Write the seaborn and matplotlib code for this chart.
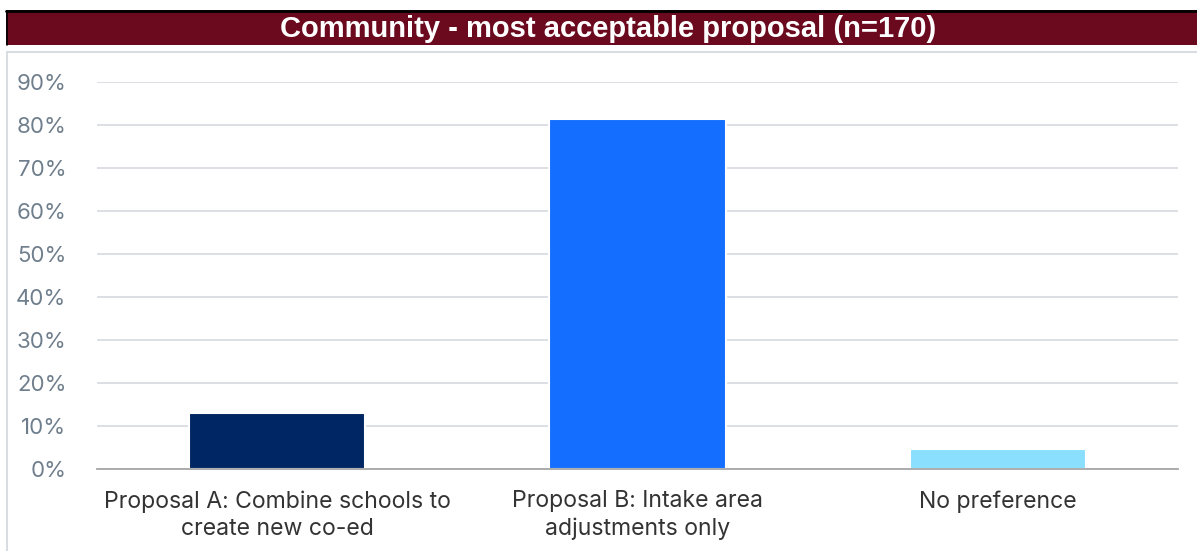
import matplotlib
matplotlib.use("Agg")
import matplotlib.pyplot as plt
from matplotlib.patches import Rectangle
from matplotlib.ticker import FixedLocator, FuncFormatter
import seaborn as sns
import pandas as pd

# Survey results
categories = [
    "Proposal A: Combine schools to\ncreate new co-ed",
    "Proposal B: Intake area\nadjustments only",
    "No preference",
]
shares = [13.0, 81.3, 4.7]
bar_colors = ["#002663", "#146EFF", "#8ADFFF"]
title = "Community - most acceptable proposal (n=170)"
y_ticks = [0, 10, 20, 30, 40, 50, 60, 70, 80, 90]

df = pd.DataFrame({"category": categories, "share": shares})

sns.set_theme(style="white")
plt.rcParams["font.family"] = ["Inter", "DejaVu Sans"]

W, H = 1197, 551
fig = plt.figure(figsize=(W / 100, H / 100), dpi=100)
fig.patch.set_facecolor("white")

# outer frame of the chart panel
frame = Rectangle((7 / W, -0.1), 1.0, (H - 52) / H + 0.1, transform=fig.transFigure,
                  facecolor="none", edgecolor="#D9DDE2", linewidth=1.5, zorder=0)
fig.patches.append(frame)

# title banner
banner = Rectangle((6 / W, (H - 45) / H), 1.0, 35 / H, transform=fig.transFigure,
                   facecolor="#6B0A1E", edgecolor="none", zorder=1)
fig.patches.append(banner)
fig.add_artist(plt.Line2D([6 / W, 1.0], [(H - 11) / H] * 2, transform=fig.transFigure,
                          color="black", linewidth=2, zorder=2))
fig.add_artist(plt.Line2D([6.5 / W] * 2, [(H - 45) / H, (H - 11) / H], transform=fig.transFigure,
                          color="black", linewidth=1.2, zorder=2))
fig.text(608 / W, (H - 29) / H, title, ha="center", va="center", color="white",
         fontsize=21, fontweight="bold", family=["Liberation Sans", "DejaVu Sans"], zorder=3)

ax_left, ax_right = 97, 1178
ax_top, ax_bottom = 81.7, 469.3
ax = fig.add_axes([ax_left / W, (H - ax_bottom) / H, (ax_right - ax_left) / W, (ax_bottom - ax_top) / H])
ax.set_facecolor("none")

sns.barplot(data=df, x="category", y="share", hue="category", palette=bar_colors,
            saturation=1, legend=False, width=0.49, edgecolor="white", linewidth=1.5,
            ax=ax, zorder=3)

ax.set_xlim(-0.5, 2.5)
ax.set_ylim(0, 90)
ax.yaxis.set_major_locator(FixedLocator(y_ticks))
ax.yaxis.set_major_formatter(FuncFormatter(lambda v, p: f"{v:.0f}%"))
ax.grid(axis="y", color="#D9DDE2", linewidth=1.3, zorder=0)
ax.set_axisbelow(True)
ax.set_xlabel("")
ax.set_ylabel("")

for side in ["top", "right", "left"]:
    ax.spines[side].set_visible(False)
ax.spines["bottom"].set_color("#A6A6A6")
ax.spines["bottom"].set_linewidth(1.3)
ax.spines["bottom"].set_zorder(4)

ax.tick_params(axis="y", length=0, pad=22, labelsize=16, labelcolor="#6F7E8C")
ax.tick_params(axis="x", which="major", length=0, pad=15, labelsize=16.6, labelcolor="#333333")
ax.xaxis.set_minor_locator(FixedLocator([-0.5, 0.5, 1.5, 2.5]))
ax.tick_params(axis="x", which="minor", length=7, width=1.3, color="#A6A6A6", direction="out")
for lbl in ax.get_xticklabels():
    lbl.set_linespacing(1.3)

fig.savefig("out.png", dpi=100)
